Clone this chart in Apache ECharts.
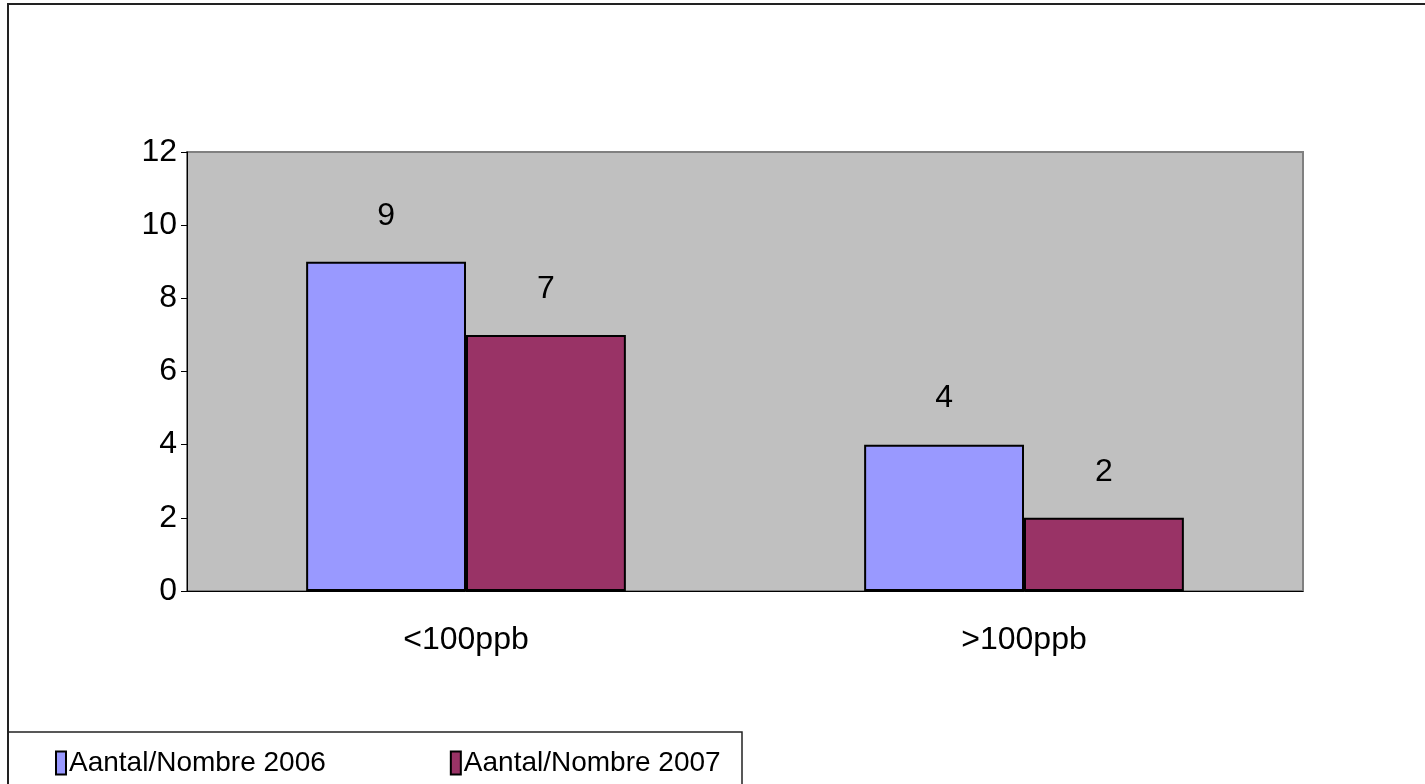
<!DOCTYPE html>
<html>
<head>
<meta charset="utf-8">
<script src="https://cdn.jsdelivr.net/npm/echarts@6/dist/echarts.min.js"></script>
<style>
html, body { margin: 0; padding: 0; background: #fff; }
#chart { width: 1425px; height: 784px; }
</style>
</head>
<body>
<div id="chart"></div>
<script>
var categories = ['<100ppb', '>100ppb'];
var seriesNames = ['Aantal/Nombre 2006', 'Aantal/Nombre 2007'];
var values2006 = [9, 4];
var values2007 = [7, 2];
var yTicks = { min: 0, max: 12, interval: 2 };

var font = "'Liberation Sans Narrow', 'Liberation Sans', Arial, sans-serif";

var myChart = echarts.init(document.getElementById('chart'));

var option = {
    animation: false,
    textStyle: { fontFamily: font },
    grid: {
        left: 187, right: 122, top: 152, bottom: 193,
        show: true,
        backgroundColor: '#C0C0C0',
        borderColor: '#808080',
        borderWidth: 2
    },
    legend: {
        left: 55, top: 749, padding: 0,
        itemWidth: 10, itemHeight: 23,
        itemGap: 124,
        icon: 'rect',
        itemStyle: { borderColor: '#000', borderWidth: 2 },
        textStyle: { fontFamily: font, fontSize: 28, color: '#000', padding: [0, 0, 0, -2] },
        data: seriesNames
    },
    graphic: [
        { type: 'polyline', shape: { points: [[8, 790], [8, 4], [1430, 4]] },
          style: { stroke: '#222', lineWidth: 2, fill: null }, silent: true },
        { type: 'polyline', shape: { points: [[8, 732], [742, 732], [742, 790]] },
          style: { stroke: '#222', lineWidth: 1.5, fill: null }, silent: true }
    ],
    xAxis: {
        type: 'category',
        data: categories,
        axisLine: { lineStyle: { color: '#000', width: 1 } },
        axisTick: { length: 9, lineStyle: { color: '#000' } },
        axisLabel: { fontSize: 32, color: '#000', margin: 33, fontFamily: font }
    },
    yAxis: {
        type: 'value',
        min: yTicks.min, max: yTicks.max, interval: yTicks.interval,
        splitLine: { show: false },
        axisLine: { show: true, lineStyle: { color: '#000', width: 1 } },
        axisTick: { show: true, length: 6, lineStyle: { color: '#000' } },
        axisLabel: { fontSize: 32, color: '#000', margin: 10, fontFamily: font }
    },
    series: [
        {
            name: seriesNames[0], type: 'bar', data: values2006,
            barGap: '0%', barCategoryGap: '42.7%',
            itemStyle: { color: '#9999FF', borderColor: '#000', borderWidth: 2 },
            label: { show: true, position: 'top', distance: 30, fontSize: 32, color: '#000', fontFamily: font }
        },
        {
            name: seriesNames[1], type: 'bar', data: values2007,
            barGap: '0%', barCategoryGap: '42.7%',
            itemStyle: { color: '#993366', borderColor: '#000', borderWidth: 2 },
            label: { show: true, position: 'top', distance: 30, fontSize: 32, color: '#000', fontFamily: font }
        }
    ]
};

myChart.setOption(option);
</script>
</body>
</html>
